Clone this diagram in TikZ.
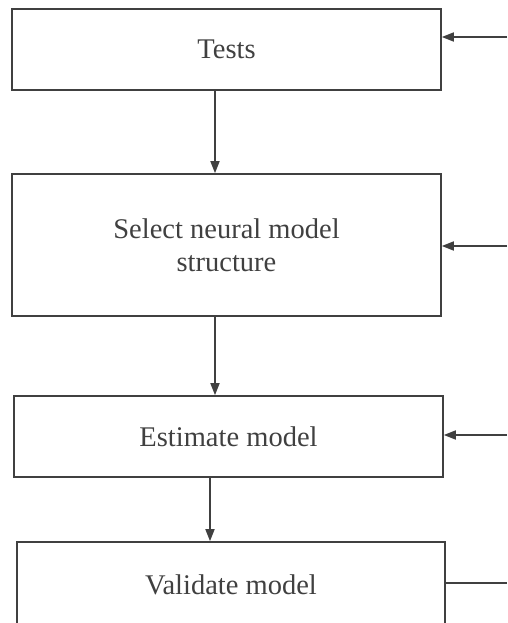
\documentclass[tikz,border=0pt]{standalone}
\usepackage{fontspec}
\setmainfont{Liberation Serif}
\usetikzlibrary{arrows.meta}
\definecolor{ink}{rgb}{0.25,0.25,0.25}
\begin{document}
\begin{tikzpicture}[x=1pt,y=-1pt,
  box/.style={draw=ink,line width=1.6pt,rectangle,minimum width=429pt,inner sep=0pt,
    text=ink,align=center,font=\fontsize{28.5}{33}\selectfont},
  arr/.style={draw=ink,line width=1.6pt,-{Triangle[length=12pt,width=9pt]}},
  ln/.style={draw=ink,line width=1.6pt}]
\useasboundingbox[fill=white] (0,0) rectangle (507,623);
\node[box,minimum height=81pt] (tests) at (226.5,49.5) {Tests};
\node[box,minimum height=142pt] (select) at (226.5,245) {Select neural model\\structure};
\node[box,minimum height=81pt] (estimate) at (228.5,436.5) {Estimate model};
\node[box,minimum width=428pt,minimum height=86pt] (validate) at (231,585) {Validate model};
\coordinate (in1) at (507,37);
\coordinate (in2) at (507,246);
\coordinate (in3) at (507,435);
\coordinate (out4) at (507,583);
\draw[arr] ([xshift=-11.5pt]tests.south) -- ([xshift=-11.5pt]select.north);
\draw[arr] ([xshift=-11.5pt]select.south) -- ([xshift=-13.5pt]estimate.north);
\draw[arr] ([xshift=-18.5pt]estimate.south) -- ([xshift=-21pt]validate.north);
\draw[arr] (in1) -- (in1 -| tests.east);
\draw[arr] (in2) -- (in2 -| select.east);
\draw[arr] (in3) -- (in3 -| estimate.east);
\draw[ln] (validate.east |- out4) -- (out4);
\end{tikzpicture}
\end{document}
